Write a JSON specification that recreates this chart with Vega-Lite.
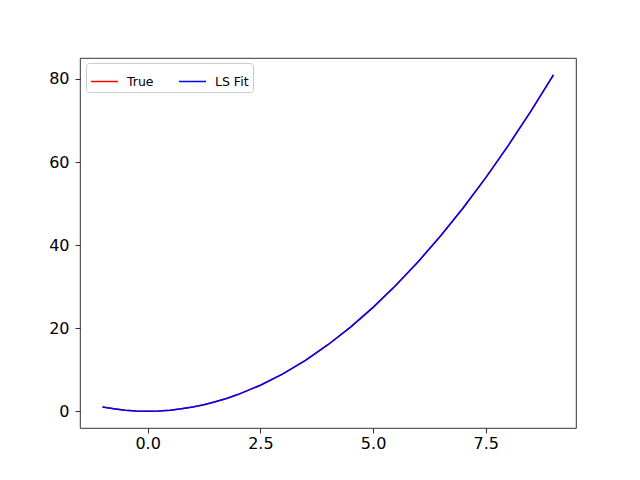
{
  "$schema": "https://vega.github.io/schema/vega-lite/v6.json",
  "width": 496,
  "height": 370,
  "autosize": {"type": "none"},
  "padding": {"left": 80, "top": 58, "right": 64, "bottom": 52},
  "background": "white",
  "data": {"values": [
    {"x": -1, "True": 1, "LS Fit": 1},
    {"x": -0.75, "True": 0.5625, "LS Fit": 0.5625},
    {"x": -0.5, "True": 0.25, "LS Fit": 0.25},
    {"x": -0.25, "True": 0.0625, "LS Fit": 0.0625},
    {"x": 0, "True": 0, "LS Fit": 0},
    {"x": 0.25, "True": 0.0625, "LS Fit": 0.0625},
    {"x": 0.5, "True": 0.25, "LS Fit": 0.25},
    {"x": 0.75, "True": 0.5625, "LS Fit": 0.5625},
    {"x": 1, "True": 1, "LS Fit": 1},
    {"x": 1.25, "True": 1.5625, "LS Fit": 1.5625},
    {"x": 1.5, "True": 2.25, "LS Fit": 2.25},
    {"x": 1.75, "True": 3.0625, "LS Fit": 3.0625},
    {"x": 2, "True": 4, "LS Fit": 4},
    {"x": 2.5, "True": 6.25, "LS Fit": 6.25},
    {"x": 3, "True": 9, "LS Fit": 9},
    {"x": 3.5, "True": 12.25, "LS Fit": 12.25},
    {"x": 4, "True": 16, "LS Fit": 16},
    {"x": 4.5, "True": 20.25, "LS Fit": 20.25},
    {"x": 5, "True": 25, "LS Fit": 25},
    {"x": 5.5, "True": 30.25, "LS Fit": 30.25},
    {"x": 6, "True": 36, "LS Fit": 36},
    {"x": 6.5, "True": 42.25, "LS Fit": 42.25},
    {"x": 7, "True": 49, "LS Fit": 49},
    {"x": 7.5, "True": 56.25, "LS Fit": 56.25},
    {"x": 8, "True": 64, "LS Fit": 64},
    {"x": 8.5, "True": 72.25, "LS Fit": 72.25},
    {"x": 9, "True": 81, "LS Fit": 81}
  ]},
  "transform": [{"fold": ["True", "LS Fit"], "as": ["series", "y"]}],
  "mark": {"type": "line", "strokeWidth": 1.5, "clip": true},
  "encoding": {
    "x": {
      "field": "x", "type": "quantitative",
      "scale": {"domain": [-1.5, 9.5], "nice": false, "zero": false},
      "axis": {"values": [0, 2.5, 5, 7.5], "format": ".1f", "title": null, "labelPadding": 2}
    },
    "y": {
      "field": "y", "type": "quantitative",
      "scale": {"domain": [-4.05, 85.05], "nice": false, "zero": false},
      "axis": {"values": [0, 20, 40, 60, 80], "format": "d", "title": null, "labelPadding": 6}
    },
    "color": {
      "field": "series", "type": "nominal",
      "scale": {"domain": ["True", "LS Fit"], "range": ["#ff0000", "#0000ff"]},
      "legend": {
        "title": null,
        "orient": "none",
        "legendX": 6,
        "legendY": 5,
        "direction": "horizontal",
        "columns": 2,
        "symbolType": "M-1,0L1,0",
        "symbolSize": 729,
        "symbolStrokeWidth": 1.5,
        "labelFont": "DejaVu Sans",
        "labelFontSize": 12.5,
        "labelColor": "black",
        "fillColor": "white",
        "strokeColor": "#cccccc",
        "cornerRadius": 3,
        "padding": 4,
        "columnPadding": 22,
        "labelOffset": 8
      }
    },
    "order": {"field": "series", "sort": "descending"}
  },
  "config": {
    "view": {"stroke": "black", "strokeWidth": 0.8},
    "axis": {
      "grid": false,
      "domain": false,
      "tickColor": "black",
      "tickSize": 5,
      "tickWidth": 0.8,
      "labelFont": "DejaVu Sans",
      "labelFontSize": 16,
      "labelColor": "black"
    }
  }
}
